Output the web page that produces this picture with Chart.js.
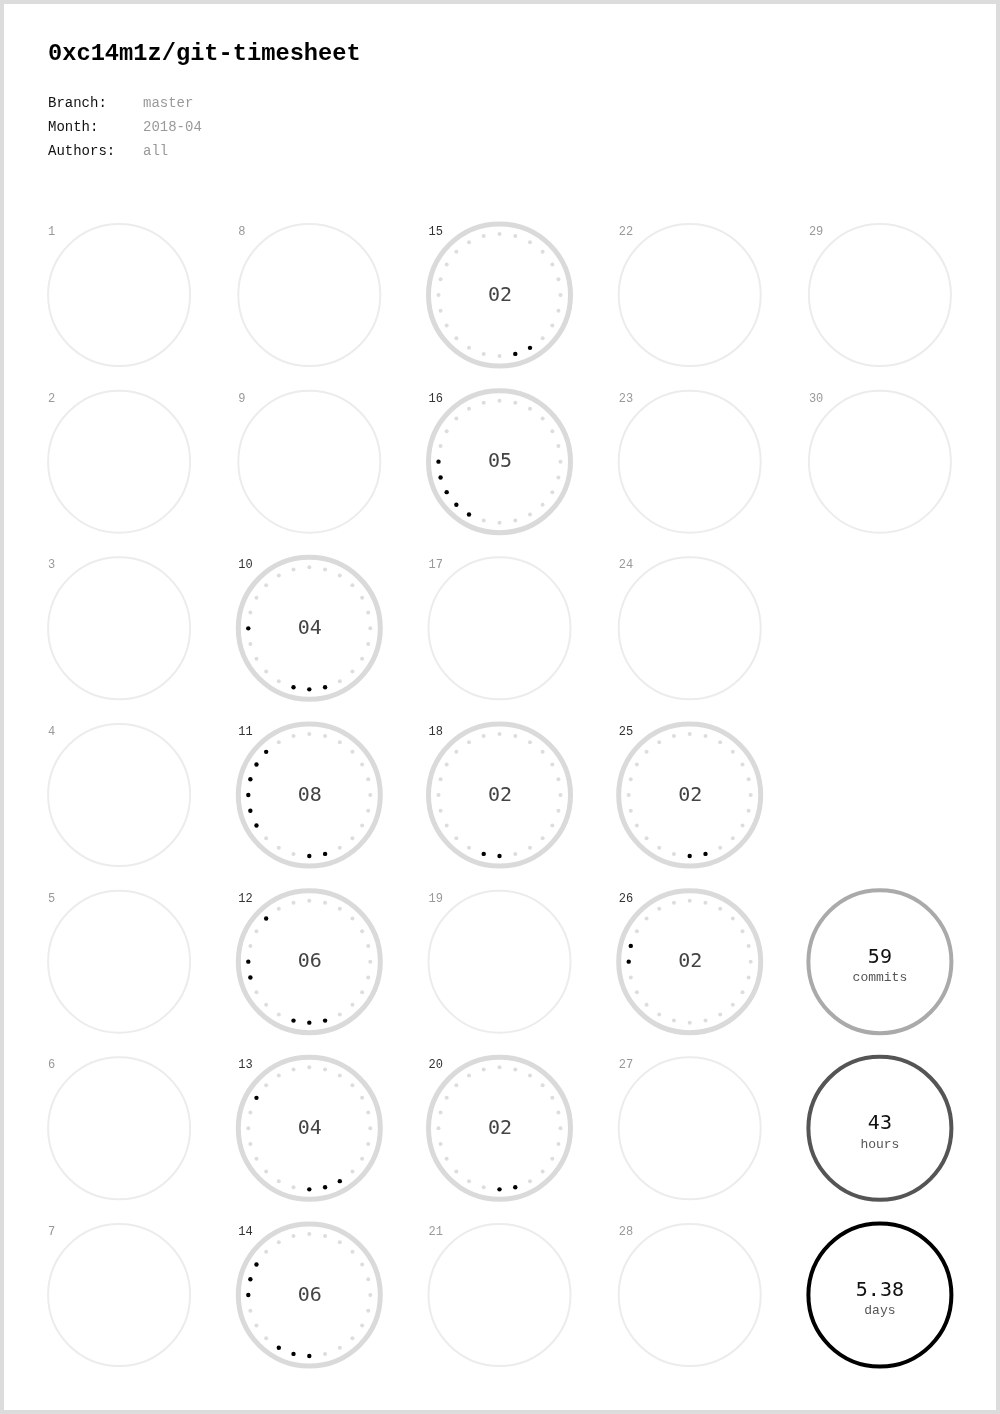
<!DOCTYPE html>
<html>
<head>
<meta charset="utf-8">
<script src="https://cdn.jsdelivr.net/npm/chart.js@4/dist/chart.umd.min.js"></script>
<style>
  html, body { margin: 0; padding: 0; background: #fff; }
  #page { position: relative; width: 1000px; height: 1414px; box-sizing: border-box; border: 4px solid #dcdcdc; background: #fff; overflow: hidden; }
  #c { position: absolute; left: -4px; top: -4px; }
  .t { position: absolute; font-family: "Liberation Mono", "DejaVu Sans Mono", monospace; white-space: pre; line-height: 1; }
  #title { left: 44px; top: 37.6px; font-size: 23.7px; font-weight: bold; color: #000; }
  .lab { left: 44px; font-size: 14px; color: #111; }
  .val { left: 139px; font-size: 14px; color: #999; }
</style>
</head>
<body>
<div id="page">
  <canvas id="c" width="1000" height="1414"></canvas>
  <div class="t" id="title">0xc14m1z/git-timesheet</div>
  <div class="t lab" style="top:92.3px">Branch:</div><div class="t val" style="top:92.3px">master</div>
  <div class="t lab" style="top:116.3px">Month:</div><div class="t val" style="top:116.3px">2018-04</div>
  <div class="t lab" style="top:140.3px">Authors:</div><div class="t val" style="top:140.3px">all</div>
</div>
<script>
// ---- data ----
const daysInMonth = 30;
const activeDays  = [10, 11, 12, 13, 14, 15, 16, 18, 20, 25, 26];
const hoursWorked = [4, 8, 6, 4, 6, 2, 5, 2, 2, 2, 2];
const activeHours = [
  [11, 12, 13, 18],
  [11, 12, 16, 17, 18, 19, 20, 21],
  [11, 12, 13, 17, 18, 21],
  [10, 11, 12, 20],
  [12, 13, 14, 18, 19, 20],
  [10, 11],
  [14, 15, 16, 17, 18],
  [12, 13],
  [11, 12],
  [11, 12],
  [18, 19]
];
const summaryValues = ['59', '43', '5.38'];
const summaryLabels = ['commits', 'hours', 'days'];
const summaryRows   = [4, 5, 6];
const summaryCol    = 4;

// ---- helpers ----
const colOf = d => Math.floor((d - 1) / 7);
const rowOf = d => (d - 1) % 7;
const allDays = Array.from({length: daysInMonth}, (_, i) => i + 1);
const emptyDays = allDays.filter(d => !activeDays.includes(d));

const RING_R = 71, DOT_R = 61;

const textPlugin = {
  id: 'texts',
  afterDatasetsDraw(chart) {
    const ctx = chart.ctx, xs = chart.scales.x, ys = chart.scales.y;
    ctx.save();
    allDays.forEach(d => {
      const x = xs.getPixelForValue(colOf(d)), y = ys.getPixelForValue(rowOf(d));
      const ai = activeDays.indexOf(d);
      ctx.font = '12px "Liberation Mono", monospace';
      ctx.textAlign = 'left';
      ctx.textBaseline = 'alphabetic';
      ctx.fillStyle = ai >= 0 ? '#333' : '#999';
      ctx.fillText(String(d), x - RING_R, y - 60);
      if (ai >= 0) {
        ctx.font = '20px "DejaVu Sans Mono", monospace';
        ctx.textAlign = 'center';
        ctx.textBaseline = 'middle';
        ctx.fillStyle = '#444';
        ctx.fillText(String(hoursWorked[ai]).padStart(2, '0'), x + 0.5, y + 0.5);
      }
    });
    summaryValues.forEach((v, i) => {
      const x = xs.getPixelForValue(summaryCol), y = ys.getPixelForValue(summaryRows[i]);
      ctx.textAlign = 'center';
      ctx.textBaseline = 'alphabetic';
      ctx.font = '20px "DejaVu Sans Mono", monospace';
      ctx.fillStyle = '#111';
      ctx.fillText(v, x, y + 1);
      ctx.font = '13px "Liberation Mono", monospace';
      ctx.fillStyle = '#555';
      ctx.fillText(summaryLabels[i], x, y + 19.5);
    });
    ctx.restore();
  }
};

const chart = new Chart(document.getElementById('c'), {
  type: 'scatter',
  data: {
    datasets: [
      { data: emptyDays.map(d => ({x: colOf(d), y: rowOf(d)})),
        pointRadius: RING_R, pointBorderWidth: 2, pointBorderColor: '#ececec', pointBackgroundColor: 'rgba(0,0,0,0)' },
      { data: activeDays.map(d => ({x: colOf(d), y: rowOf(d)})),
        pointRadius: RING_R, pointBorderWidth: 5, pointBorderColor: '#dadada', pointBackgroundColor: 'rgba(0,0,0,0)' },
      { data: [], pointRadius: 2, pointBorderWidth: 0, pointBackgroundColor: '#dddddd' },
      { data: [], pointRadius: 2.2, pointBorderWidth: 0, pointBackgroundColor: '#000000' },
      { data: summaryRows.map(r => ({x: summaryCol, y: r})),
        pointRadius: 71.5, pointBorderWidth: 4, pointBorderColor: ['#aaaaaa', '#555555', '#000000'], pointBackgroundColor: 'rgba(0,0,0,0)' }
    ]
  },
  options: {
    responsive: false,
    animation: false,
    events: [],
    layout: { autoPadding: false, padding: { left: 24, right: 25, top: 211.67, bottom: 35.67 } },
    scales: {
      x: { type: 'linear', min: -0.5, max: 4.5, display: false },
      y: { type: 'linear', min: -0.5, max: 6.5, reverse: true, display: false }
    },
    plugins: { legend: { display: false }, tooltip: { enabled: false } }
  },
  plugins: [textPlugin]
});

// place hour dots around each active day, converting the pixel radius to data units
const xs = chart.scales.x, ys = chart.scales.y;
const pxX = xs.getPixelForValue(1) - xs.getPixelForValue(0);
const pxY = ys.getPixelForValue(1) - ys.getPixelForValue(0);
const grey = [], black = [];
activeDays.forEach((d, i) => {
  for (let h = 0; h < 24; h++) {
    const a = h * Math.PI / 12;
    const p = { x: colOf(d) + DOT_R * Math.sin(a) / pxX, y: rowOf(d) - DOT_R * Math.cos(a) / pxY };
    (activeHours[i].includes(h) ? black : grey).push(p);
  }
});
chart.data.datasets[2].data = grey;
chart.data.datasets[3].data = black;
chart.update();
</script>
</body>
</html>
